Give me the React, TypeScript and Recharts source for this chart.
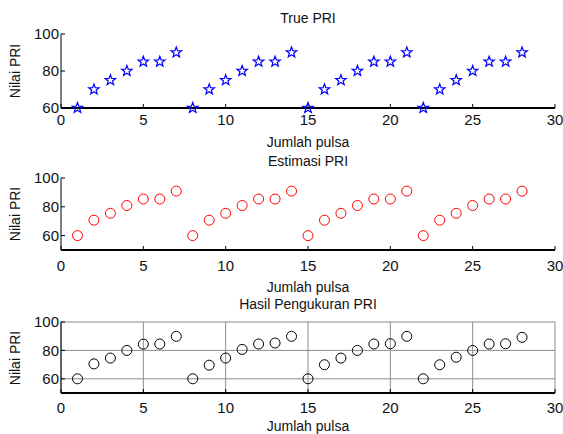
import { CartesianGrid, Scatter, ScatterChart, XAxis, YAxis } from 'recharts'

const pulse = [1, 2, 3, 4, 5, 6, 7, 8, 9, 10, 11, 12, 13, 14, 15, 16, 17, 18, 19, 20, 21, 22, 23, 24, 25, 26, 27, 28]
const truePri = [60, 70, 75, 80, 85, 85, 90, 60, 70, 75, 80, 85, 85, 90, 60, 70, 75, 80, 85, 85, 90, 60, 70, 75, 80, 85, 85, 90]
const estPri = [60, 70.7, 75.5, 80.9, 85.4, 85.4, 90.9, 60, 70.7, 75.5, 80.9, 85.4, 85.4, 90.9, 60, 70.7, 75.5, 80.9, 85.4, 85.4, 90.9, 60, 70.7, 75.5, 80.9, 85.4, 85.4, 90.9]
const measPri = [60, 70.5, 74.6, 80, 84.4, 84.5, 89.9, 60, 69.6, 74.6, 80.7, 84.5, 85.2, 89.9, 60, 69.9, 74.6, 80, 84.5, 84.7, 89.9, 60, 69.9, 75.2, 80, 84.5, 84.7, 89.2]
const xTicks = [0, 5, 10, 15, 20, 25, 30]
const yTicks = [60, 80, 100]

const FONT = '"Liberation Sans", Arial, sans-serif'
const W = 563
const PLOT_LEFT = 61
const PLOT_RIGHT = 555

const StarMark = (props: any) => {
    const { cx, cy } = props
    const pts: string[] = []
    for (let i = 0; i < 10; i++) {
        const r = i % 2 === 0 ? 5.5 : 2.3
        const a = -Math.PI / 2 + (i * Math.PI) / 5
        pts.push(`${cx + r * Math.cos(a)},${cy + r * Math.sin(a)}`)
    }
    return <polygon points={pts.join(' ')} fill='none' stroke='#0000ff' strokeWidth={1.2} />
}

const circleMark = (color: string) => (props: any) => (
    <circle cx={props.cx} cy={props.cy} r={5} fill='none' stroke={color} strokeWidth={1} />
)

// invisible mark, only there so the top/right box axes get a domain
const NoMark = () => <g />

const tickStyle = { fontSize: 15, fill: '#111', fontFamily: FONT }

type PanelProps = {
    top: number
    height: number
    plotTop: number
    plotBottom: number
    yMin: number
    title: string
    titleY: number
    tickGap: number
    labelY: number
    values: number[]
    shape: any
    grid?: boolean
}

function Panel(p: PanelProps) {
    const data = pulse.map((x, i) => ({ x, y: p.values[i] }))
    const marginTop = p.plotTop - p.top
    const xAxisH = 20
    const marginBottom = p.top + p.height - p.plotBottom - xAxisH
    const text = { position: 'absolute' as const, fontFamily: FONT, fontSize: 14, lineHeight: '16px', color: '#111', whiteSpace: 'nowrap' as const }
    return (
        <>
            <div style={{ ...text, left: PLOT_LEFT, width: PLOT_RIGHT - PLOT_LEFT, textAlign: 'center', top: p.titleY - 8 }}>{p.title}</div>
            <div style={{ ...text, left: PLOT_LEFT, width: PLOT_RIGHT - PLOT_LEFT, textAlign: 'center', top: p.labelY - 8 }}>Jumlah pulsa</div>
            <div
                style={{
                    ...text,
                    left: 15 - 50,
                    width: 100,
                    textAlign: 'center',
                    top: (p.plotTop + p.plotBottom) / 2 - 8,
                    transform: 'rotate(-90deg)',
                }}
            >
                Nilai PRI
            </div>
            <div style={{ position: 'absolute', left: 0, top: p.top }}>
                <ScatterChart
                    width={W}
                    height={p.height}
                    margin={{ top: marginTop, right: W - PLOT_RIGHT, bottom: marginBottom, left: PLOT_LEFT - 40 }}
                >
                    {p.grid && <CartesianGrid xAxisId='b' yAxisId='l' stroke='#8c8c8c' strokeWidth={1} />}
                    <XAxis
                        xAxisId='b'
                        dataKey='x'
                        type='number'
                        domain={[0, 30]}
                        ticks={xTicks}
                        height={xAxisH}
                        tickSize={-4}
                        tickMargin={4 + p.tickGap}
                        tick={tickStyle}
                        axisLine={{ stroke: '#000', strokeWidth: 2 }}
                        tickLine={{ stroke: '#000' }}
                    />
                    <XAxis
                        xAxisId='t'
                        dataKey='x'
                        orientation='top'
                        type='number'
                        domain={[0, 30]}
                        ticks={xTicks}
                        height={0}
                        tickSize={-4}
                        tick={false}
                        axisLine={{ stroke: '#000', strokeWidth: 2 }}
                        tickLine={{ stroke: '#000' }}
                    />
                    <YAxis
                        yAxisId='l'
                        dataKey='y'
                        type='number'
                        domain={[p.yMin, 100]}
                        ticks={yTicks}
                        width={40}
                        tickSize={-4}
                        tickMargin={6}
                        tick={tickStyle}
                        axisLine={{ stroke: '#000', strokeWidth: 1 }}
                        tickLine={{ stroke: '#000' }}
                    />
                    <YAxis
                        yAxisId='r'
                        dataKey='y'
                        orientation='right'
                        type='number'
                        domain={[p.yMin, 100]}
                        ticks={yTicks}
                        width={0}
                        tickSize={-4}
                        tick={false}
                        axisLine={{ stroke: '#000', strokeWidth: 1 }}
                        tickLine={{ stroke: '#000' }}
                    />
                    <Scatter xAxisId='t' yAxisId='r' data={data} shape={NoMark} isAnimationActive={false} />
                    <Scatter xAxisId='b' yAxisId='l' data={data} shape={p.shape} isAnimationActive={false} />
                </ScatterChart>
            </div>
        </>
    )
}

export default function App() {
    return (
        <div style={{ position: 'absolute', left: 0, top: 0, width: W, height: 434, background: '#fff' }}>
            <Panel top={0} height={150} plotTop={34} plotBottom={108} yMin={60} title='True PRI' titleY={18} tickGap={6} labelY={142} values={truePri} shape={StarMark} />
            <Panel top={150} height={140} plotTop={178} plotBottom={250} yMin={50} title='Estimasi PRI' titleY={161} tickGap={10} labelY={287} values={estPri} shape={circleMark('#ff0000')} />
            <Panel top={290} height={144} plotTop={322} plotBottom={393} yMin={50} title='Hasil Pengukuran PRI' titleY={304} tickGap={9} labelY={426} values={measPri} shape={circleMark('#000')} grid />
        </div>
    )
}
